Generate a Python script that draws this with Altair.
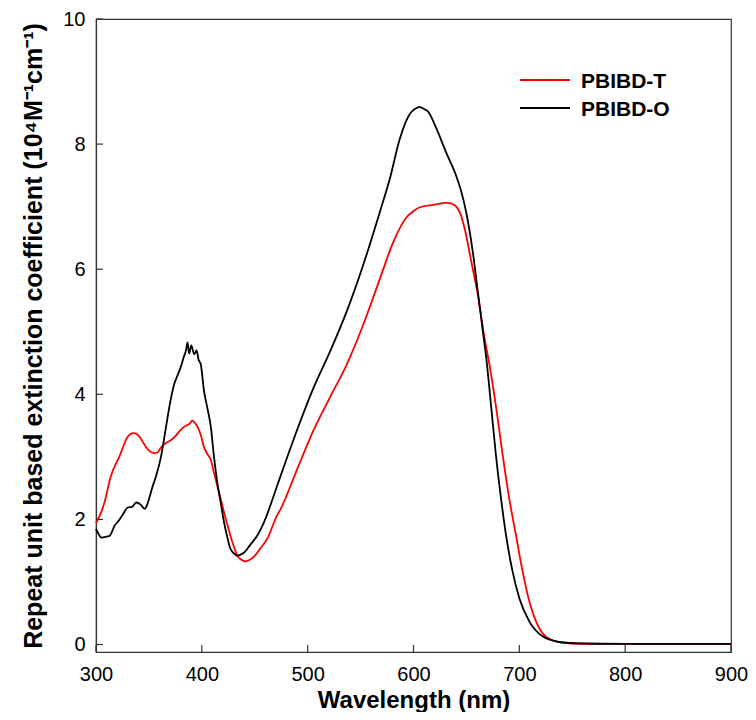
import altair as alt
import pandas as pd

# PBIBD-T (red)
t_wl = [300, 305, 308, 314, 322, 330, 335, 338, 342, 346, 350, 355, 358, 361, 366, 371, 375, 380,
        385, 388, 391, 393, 396, 399, 402, 405, 408.5, 411, 414.7, 418, 421, 424, 427, 430, 433.5,
        437, 441, 445, 449, 455, 461.8, 471, 474.3, 490, 505.7, 521.3, 537, 552.7, 568.3, 580.8,
        593.4, 600, 606, 618.6, 631, 636, 640.4, 644, 648.3, 654.6, 660.8, 667, 672, 678, 684.4,
        690.6, 696.9, 703.2, 709.4, 715.7, 725, 740, 760, 800, 850, 900]
t_val = [1.94, 2.12, 2.27, 2.69, 3.00, 3.32, 3.38, 3.37, 3.30, 3.19, 3.10, 3.06, 3.07, 3.14, 3.22,
         3.27, 3.33, 3.43, 3.50, 3.52, 3.58, 3.55, 3.48, 3.35, 3.16, 3.05, 2.95, 2.78, 2.53, 2.32,
         2.11, 1.92, 1.74, 1.58, 1.42, 1.36, 1.33, 1.35, 1.40, 1.53, 1.69, 2.06, 2.16, 2.80, 3.43,
         3.96, 4.48, 5.12, 5.85, 6.43, 6.83, 6.93, 6.99, 7.03, 7.06, 7.05, 7.00, 6.90, 6.65, 6.12,
         5.59, 4.91, 4.45, 3.80, 3.01, 2.32, 1.74, 1.16, 0.69, 0.37, 0.13, 0.03, 0.01, 0.01, 0.01,
         0.01]

# PBIBD-O (black)
o_wl = [300, 303, 305, 309, 313, 317.6, 321, 325.4, 330, 334, 338, 342, 346, 348, 350.5, 353,
        356.7, 361.4, 364, 367.7, 371, 374, 377, 380, 383, 385, 386.5, 388, 390, 392.8, 395, 397,
        399, 402, 405, 408.5, 411.5, 414.7, 418, 421, 424, 427, 430, 433.5, 437, 440, 446, 452.3,
        458.6, 471, 474.3, 490, 505.7, 521.3, 537, 552.7, 568.3, 577.7, 587, 596.5, 602, 606, 610,
        613.8, 621.6, 631, 640.4, 645, 649.8, 656, 660.8, 665.5, 668.7, 673.4, 678, 682.8, 687.5,
        693.7, 700, 709.4, 722, 737.6, 753, 800, 850, 900]
o_val = [1.85, 1.75, 1.71, 1.72, 1.74, 1.90, 1.97, 2.08, 2.19, 2.20, 2.27, 2.24, 2.17, 2.22, 2.35,
         2.50, 2.69, 3.00, 3.25, 3.64, 3.95, 4.17, 4.30, 4.43, 4.60, 4.70, 4.83, 4.65, 4.78, 4.64,
         4.70, 4.55, 4.48, 4.06, 3.80, 3.48, 3.00, 2.58, 2.25, 1.95, 1.72, 1.53, 1.46, 1.42, 1.44,
         1.47, 1.60, 1.74, 1.95, 2.53, 2.69, 3.43, 4.11, 4.69, 5.33, 6.08, 6.92, 7.45, 8.08, 8.48,
         8.57, 8.59, 8.56, 8.52, 8.25, 7.86, 7.49, 7.25, 6.91, 6.28, 5.64, 5.01, 4.59, 3.80, 3.01,
         2.32, 1.74, 1.16, 0.74, 0.37, 0.13, 0.04, 0.02, 0.01, 0.01, 0.01]

series_names = ["PBIBD-T", "PBIBD-O"]
series_colors = ["#ff0000", "#000000"]
x_ticks = [300, 400, 500, 600, 700, 800, 900]
y_ticks = [0, 2, 4, 6, 8, 10]

df = pd.concat([
    pd.DataFrame({"wl": t_wl, "val": t_val, "series": series_names[0], "order": 0}),
    pd.DataFrame({"wl": o_wl, "val": o_val, "series": series_names[1], "order": 1}),
])
legend_df = pd.DataFrame({"series": series_names, "idx": [0, 1]})

W, H = 635, 633
FONT = "Liberation Sans"
AX = "#333333"

xscale = alt.Scale(domain=[300, 900], nice=False, zero=False)
yscale = alt.Scale(domain=[-0.12, 10], nice=False, zero=False)
cscale = alt.Scale(domain=series_names, range=series_colors)

lines = alt.Chart(df).mark_line(strokeWidth=1.8, interpolate="monotone").encode(
    x=alt.X("wl:Q", scale=xscale, title="Wavelength (nm)",
            axis=alt.Axis(values=x_ticks, format="d", tickSize=0, ticks=False, grid=False,
                          domainColor=AX, domainWidth=1.2,
                          labelFont=FONT, labelFontSize=20, labelColor="#000",
                          labelBaseline="alphabetic", labelPadding=28, labelFlush=False,
                          titleFont=FONT, titleFontSize=24, titleFontWeight="bold",
                          titleColor="#000", titleBaseline="alphabetic", titleY=55)),
    y=alt.Y("val:Q", scale=yscale,
            title="Repeat unit based extinction coefficient (10⁴M⁻¹cm⁻¹)",
            axis=alt.Axis(values=y_ticks, format="d", tickSize=0, ticks=False, grid=False,
                          domainColor=AX, domainWidth=1.2,
                          labelFont=FONT, labelFontSize=20, labelColor="#000",
                          labelPadding=11, labelFlush=False,
                          titleFont=FONT, titleFontSize=25, titleFontWeight="bold",
                          titleColor="#000", titleBaseline="alphabetic", titleAngle=270,
                          titleX=-54.5, titleY=H / 2)),
    color=alt.Color("series:N", scale=cscale, legend=None),
    order="order:Q",
    detail="series:N",
)

xt = alt.Chart(pd.DataFrame({"t": x_ticks})).mark_rule(color=AX, strokeWidth=1.2).encode(
    x=alt.X("t:Q", scale=xscale), y=alt.value(H), y2=alt.value(H - 7))
yt = alt.Chart(pd.DataFrame({"t": y_ticks})).mark_rule(color=AX, strokeWidth=1.2).encode(
    y=alt.Y("t:Q", scale=yscale), x=alt.value(0), x2=alt.value(7))

leg_base = alt.Chart(legend_df).transform_calculate(ypx="61 + datum.idx * 28")
leg_sym = leg_base.mark_rule(strokeWidth=2).encode(
    x=alt.value(424), x2=alt.value(474),
    y=alt.Y("ypx:Q", scale=None),
    color=alt.Color("series:N", scale=cscale, legend=None),
)
leg_txt = leg_base.mark_text(align="left", baseline="alphabetic", dy=7.5, font=FONT,
                             fontSize=21, fontWeight="bold", color="#000").encode(
    x=alt.value(485),
    y=alt.Y("ypx:Q", scale=None),
    text="series:N",
)

chart = alt.layer(lines, xt, yt, leg_sym, leg_txt).properties(
    width=W, height=H,
    autosize=alt.AutoSizeParams(type="none"),
    padding={"left": 88, "top": 11, "right": 17, "bottom": 60},
    background="white",
).configure_view(stroke=AX, strokeWidth=1.2)

chart.save("out.html", embed_options={"renderer": "svg", "actions": False})
